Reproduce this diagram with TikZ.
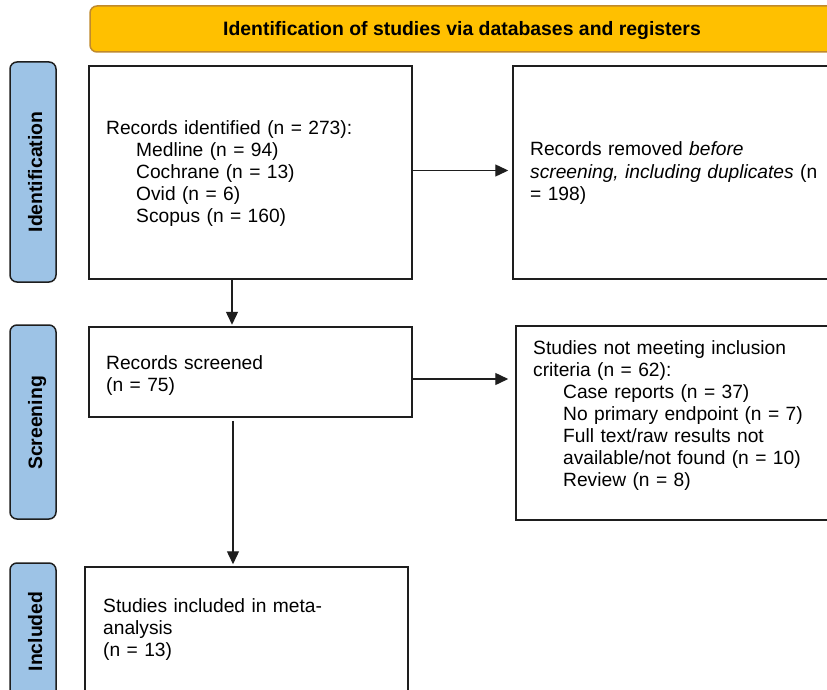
\documentclass[tikz,border=0pt]{standalone}
\usepackage{fontspec}
\setmainfont{Liberation Sans}
\usetikzlibrary{arrows.meta}
\definecolor{hdrfill}{HTML}{FFC000}
\definecolor{hdrline}{HTML}{C08A2C}
\definecolor{pillfill}{HTML}{9DC3E6}
\definecolor{boxline}{HTML}{1E1E1E}
\begin{document}
\begin{tikzpicture}[x=1pt,y=-1pt,
  box/.style={draw=boxline, line width=1.5pt, fill=white, inner sep=0pt},
  pill/.style={draw=boxline, line width=1.5pt, fill=pillfill, rounded corners=7pt, inner sep=0pt, minimum width=46pt},
  hdr/.style={draw=hdrline, line width=1.5pt, fill=hdrfill, rounded corners=7pt, inner sep=0pt},
  txt/.style={anchor=base west, align=left, inner sep=0pt, text width=330pt, font=\fontsize{19.2}{22}\selectfont},
  lbl/.style={rotate=90, anchor=base, inner sep=0pt, font=\fontsize{19.4}{22}\selectfont\bfseries},
  arr/.style={draw=boxline, line width=1.4pt, -{Triangle[length=13pt,width=12pt]}}
]
\useasboundingbox (0,0) rectangle (827,690);
\fill[white] (0,0) rectangle (827,690);
\clip (0,0) rectangle (827,690);

% header
\node[hdr, minimum width=810pt, minimum height=46pt] (hdr) at (495,29) {};
\node[anchor=base, inner sep=0pt, font=\fontsize{19.4}{22}\selectfont\bfseries] (hdrtxt) at (462,36) {Identification of studies via databases and registers};

% phase pills
\node[pill, minimum height=220pt] (p1) at (33,172) {};
\node[lbl] (p1t) at (42,172) {Identification};
\node[pill, minimum height=194pt] (p2) at (33,422) {};
\node[lbl] (p2t) at (42,423) {Screening};
\node[pill, minimum height=197pt] (p3) at (33,661.5) {};
\node[lbl] (p3t) at (42,631.5) {Included};

% boxes
\node[box, minimum width=323pt, minimum height=213pt] (b1) at (250.5,172.5) {};
\node[box, minimum width=387pt, minimum height=213pt] (b2) at (706.5,172.5) {};
\node[box, minimum width=323pt, minimum height=90pt] (b3) at (250.5,372) {};
\node[box, minimum width=384pt, minimum height=194pt] (b4) at (708,423) {};
\node[box, minimum width=323pt, minimum height=193pt] (b5) at (246.5,663.5) {};

% texts
\node[txt] (t1) at (106,135) {Records identified (n = 273):\\
\hspace*{30pt}Medline (n = 94)\\
\hspace*{30pt}Cochrane (n = 13)\\
\hspace*{30pt}Ovid (n = 6)\\
\hspace*{30pt}Scopus (n = 160)};
\node[txt] (t2) at (530,156) {Records removed \emph{before}\\
\emph{screening, including duplicates} (n\\
= 198)};
\node[txt] (t3) at (106,369) {Records screened\\
(n = 75)};
\node[txt] (t4) at (533,354) {Studies not meeting inclusion\\
criteria (n = 62):\\
\hspace*{30pt}Case reports (n = 37)\\
\hspace*{30pt}No primary endpoint (n = 7)\\
\hspace*{30pt}Full text/raw results not\\
\hspace*{30pt}available/not found (n = 10)\\
\hspace*{30pt}Review (n = 8)};
\node[txt] (t5) at (103,612) {Studies included in meta-\\
analysis\\
(n = 13)};

% connectors
\draw[arr, shorten >=4pt] ([yshift=2pt]b1.east) -- ([yshift=2pt]b1.east -| b2.west);
\draw[arr, shorten >=1.5pt] ([xshift=-18.5pt]b1.south) -- ([xshift=-18.5pt]b1.south |- b3.north);
\draw[arr, shorten >=7pt] ([yshift=-7pt]b3.east) -- ([yshift=-7pt]b3.east -| b4.west);
\draw[arr, shorten <=3pt, shorten >=2pt] ([xshift=-17.5pt]b3.south) -- ([xshift=-17.5pt]b3.south |- b5.north);
\end{tikzpicture}
\end{document}
